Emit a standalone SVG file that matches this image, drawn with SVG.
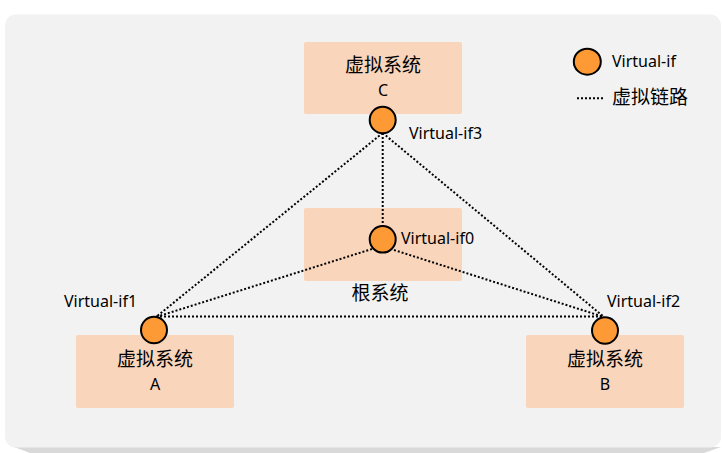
<svg xmlns="http://www.w3.org/2000/svg" width="722" height="453" viewBox="0 0 722 453">
<style>
.box{fill:#f8d5bb}
.vif{fill:#fd9a35;stroke:#000;stroke-width:2}
.link{stroke:#000;stroke-width:2;stroke-dasharray:2 2;fill:none}
.cn{font-family:"Noto Sans CJK SC","Noto Sans",sans-serif;font-size:19px;fill:#000}
.lt{font-family:"Noto Sans","Liberation Sans",sans-serif;font-size:16px;fill:#000}
</style>
<rect width="722" height="453" fill="#ffffff"/>
<polygon points="14,447 721,447 704,453 30,453" fill="#d9d9d9"/>
<rect x="5" y="14.5" width="716" height="433" rx="11" fill="#f2f2f2"/>

<g id="box-C"><rect class="box" x="304" y="42" width="158" height="72" rx="2"/>
<text class="cn" x="383" y="72" text-anchor="middle">虚拟系统</text>
<text class="lt" x="383" y="96" text-anchor="middle">C</text></g>
<g id="box-root"><rect class="box" x="304" y="208" width="158" height="73" rx="2"/></g>
<g id="box-A"><rect class="box" x="76" y="335" width="158" height="73" rx="2"/>
<text class="cn" x="155" y="366" text-anchor="middle">虚拟系统</text>
<text class="lt" x="155" y="390" text-anchor="middle">A</text></g>
<g id="box-B"><rect class="box" x="526" y="335" width="158" height="73" rx="2"/>
<text class="cn" x="605" y="366" text-anchor="middle">虚拟系统</text>
<text class="lt" x="605" y="390" text-anchor="middle">B</text></g>

<g id="connectors">
<line class="link" x1="382.7" y1="133" x2="382.7" y2="226"/>
<line class="link" x1="382.7" y1="133" x2="156" y2="317"/>
<line class="link" x1="382.7" y1="133" x2="604" y2="317"/>
<line class="link" x1="156" y1="316.5" x2="604" y2="316.5"/>
<line class="link" x1="372" y1="249" x2="156" y2="317"/>
<line class="link" x1="394" y1="250" x2="604" y2="317"/>
</g>

<g id="vif3"><ellipse class="vif" cx="382.7" cy="120" rx="13" ry="13.3"/>
<text class="lt" x="409" y="139">Virtual-if3</text></g>
<g id="vif0"><ellipse class="vif" cx="382.7" cy="239.3" rx="13" ry="13.3"/>
<text class="lt" x="401" y="244">Virtual-if0</text></g>
<text id="root-label" class="cn" x="380" y="300" text-anchor="middle">根系统</text>
<g id="vif1"><ellipse class="vif" cx="154" cy="330" rx="13" ry="13.3"/>
<text class="lt" x="64" y="307">Virtual-if1</text></g>
<g id="vif2"><ellipse class="vif" cx="605" cy="330.5" rx="13" ry="13.3"/>
<text class="lt" x="607" y="307">Virtual-if2</text></g>

<g id="legend">
<ellipse class="vif" cx="587.3" cy="61.7" rx="13.5" ry="13"/>
<text class="lt" x="612" y="67">Virtual-if</text>
<line class="link" x1="577" y1="98.3" x2="603" y2="98.3"/>
<text class="cn" x="612" y="104">虚拟链路</text>
</g>
</svg>
